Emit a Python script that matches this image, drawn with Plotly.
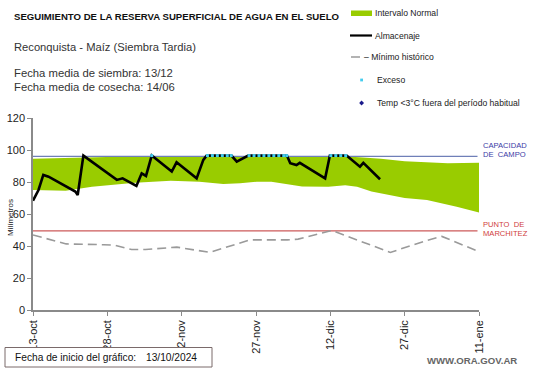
import pandas as pd
import plotly.graph_objects as go

# ---------------- data ----------------
START = pd.Timestamp("2024-10-13")

band_upper_days = [0, 4.7, 9.5, 19.1, 28.8, 43.2, 57.7, 63.5, 67.3, 70.2, 75.0, 79.9, 83.7, 90]
band_upper_vals = [94.6, 94.9, 95.6, 96.0, 96.2, 96.2, 96.2, 96.0, 95.2, 94.6, 93.0, 92.2, 91.7, 92.0]
band_lower_days = [0, 6.6, 11.9, 16.2, 20.6, 27.8, 33.6, 38.4, 41.8, 45.2, 48.1, 54.3, 59.6, 63.0,
                   65.4, 68.3, 71.5, 75.0, 79.5, 82.1, 85.5, 90]
band_lower_vals = [75.0, 74.6, 77.0, 78.5, 79.6, 80.8, 80.2, 78.8, 79.2, 80.2, 80.2, 77.2, 77.0, 78.0,
                   77.0, 74.0, 71.9, 70.0, 68.7, 66.7, 64.6, 61.0]

alm_days = [0, 1.11, 2.08, 3.14, 8.54, 9.02, 10.17, 16.92, 18.08, 20.87, 21.93, 22.8, 23.96, 28.0,
            28.97, 33.02, 34.37, 35.04, 40.05, 41.12, 43.43, 51.24, 51.91, 53.16, 53.84, 58.95,
            59.91, 63.28, 65.98, 66.66, 70.03]
alm_vals = [68.3, 75.0, 84.4, 83.3, 74.0, 71.9, 96.5, 81.3, 82.3, 77.5, 85.4, 83.8, 96.5, 86.5,
            92.3, 82.3, 93.8, 96.5, 96.5, 92.7, 96.5, 96.5, 91.7, 90.6, 92.0, 82.3,
            96.5, 96.5, 89.6, 92.0, 81.7]

min_days = [0, 6.7, 14.3, 16.5, 19.9, 22.7, 29.0, 35.7, 43.7, 51.3, 53.5, 60.3, 72.1, 79.5, 82.5, 90]
min_vals = [46.9, 41.3, 40.8, 40.5, 37.8, 37.8, 39.3, 36.0, 43.8, 43.8, 44.3, 49.7, 36.0, 43.5, 46.0, 36.5]

exceso_days = [23.96, 35.2, 36.2, 37.2, 38.2, 39.2, 40.0, 43.6, 44.6, 45.6, 46.6, 47.6, 48.6, 49.6,
               50.6, 51.2, 60.1, 61.1, 62.1, 63.1]
exceso_vals = [96.5] * len(exceso_days)

CAPACIDAD_CAMPO = 96.0
PUNTO_MARCHITEZ = 49.5
LINE_END_DAY = 89.7

tick_days = [0, 15, 30, 45, 60, 75, 90]
tick_labels = ["13-oct", "28-oct", "12-nov", "27-nov", "12-dic", "27-dic", "11-ene"]
y_ticks = [0, 20, 40, 60, 80, 100, 120]


def d(days):
    return [START + pd.Timedelta(days=float(v)) for v in days]


# ---------------- layout helpers ----------------
WIDTH, HEIGHT = 541, 368
L, R, T, B = 33, 62, 118, 58
PW, PH = WIDTH - L - R, HEIGHT - T - B


def PX(x):
    return (x - L) / PW


def PY(y):
    return (HEIGHT - B - y) / PH


FONT = "Arial, Liberation Sans, sans-serif"
GREEN = "#99cc00"
AXIS = "#8a8a8a"

fig = go.Figure()

# normal interval band
fig.add_trace(go.Scatter(
    x=d(band_upper_days + band_lower_days[::-1]),
    y=band_upper_vals + band_lower_vals[::-1],
    fill="toself", fillcolor=GREEN, mode="lines", line=dict(width=0, color=GREEN),
    hoverinfo="skip", showlegend=False))

# reference lines
fig.add_trace(go.Scatter(x=d([0, LINE_END_DAY]), y=[CAPACIDAD_CAMPO] * 2, mode="lines",
                         line=dict(color="#6f7fb8", width=1.2), showlegend=False))
fig.add_trace(go.Scatter(x=d([0, LINE_END_DAY]), y=[PUNTO_MARCHITEZ] * 2, mode="lines",
                         line=dict(color="#cc5a5a", width=1.2), showlegend=False))

# minimo historico
fig.add_trace(go.Scatter(x=d(min_days), y=min_vals, mode="lines",
                         line=dict(color="#9a9a9a", width=1.6, dash="9px,5px"), showlegend=False))

# almacenaje
fig.add_trace(go.Scatter(x=d(alm_days), y=alm_vals, mode="lines",
                         line=dict(color="#000000", width=2.6), showlegend=False))

# exceso
fig.add_trace(go.Scatter(x=d(exceso_days), y=exceso_vals, mode="markers",
                         marker=dict(color="#44ccee", size=3, symbol="square"), showlegend=False))

fig.update_layout(
    width=WIDTH, height=HEIGHT,
    margin=dict(l=L, r=R, t=T, b=B, autoexpand=False),
    paper_bgcolor="white", plot_bgcolor="white",
    font=dict(family=FONT, color="#222222", size=11),
    showlegend=False,
    xaxis=dict(
        range=[START, START + pd.Timedelta(days=90)], automargin=False,
        tickvals=d(tick_days), ticktext=tick_labels, tickangle=-90,
        ticks="outside", ticklen=4, tickcolor=AXIS, showgrid=False, zeroline=False,
        showline=True, linecolor=AXIS, linewidth=1.5, tickfont=dict(size=11, color="#222222"),
    ),
    yaxis=dict(
        range=[0, 120], tickvals=y_ticks, ticks="outside", ticklen=4, tickcolor=AXIS,
        showgrid=False, zeroline=False, showline=True, linecolor=AXIS, linewidth=1.5,
        tickfont=dict(size=11, color="#222222"), automargin=False,
    ),
)

ann = []


def text(x, y, s, size, color="#222222", bold=False, family=FONT, anchor="left", angle=0):
    ann.append(dict(x=PX(x), y=PY(y), xref="paper", yref="paper", text=("<b>%s</b>" % s) if bold else s,
                    showarrow=False, xanchor=anchor, yanchor="middle", textangle=angle,
                    font=dict(size=size, color=color, family=family)))


text(12, 16, "SEGUIMIENTO DE LA RESERVA SUPERFICIAL DE AGUA EN EL SUELO", 9.6, "#111111", bold=True)
text(12, 47, "Reconquista - Maíz (Siembra Tardia)", 11.2, "#333333")
text(12, 73, "Fecha media de siembra: 13/12", 11.3, "#333333")
text(12, 86.5, "Fecha media de cosecha: 14/06", 11.3, "#333333")
text(10, 218, "Milímetros", 8, "#222222", anchor="center", angle=-90)

# legend
LT = 8.6
text(373, 13, "Intervalo Normal", LT)
text(373, 35.5, "Almacenaje", LT)
text(362, 57, "– Mínimo histórico", LT)
text(375, 80, "Exceso", LT)
text(375, 103, "Temp <3°C fuera del período habitual", LT)

fig.add_shape(type="rect", xref="paper", yref="paper", x0=PX(351), x1=PX(372), y0=PY(16), y1=PY(10.5),
              fillcolor=GREEN, line=dict(width=0))
fig.add_shape(type="line", xref="paper", yref="paper", x0=PX(350), x1=PX(372), y0=PY(35.5), y1=PY(35.5),
              line=dict(color="black", width=2.2))
fig.add_shape(type="line", xref="paper", yref="paper", x0=PX(351), x1=PX(360), y0=PY(57), y1=PY(57),
              line=dict(color="#9a9a9a", width=1.5))
fig.add_shape(type="rect", xref="paper", yref="paper", x0=PX(360.2), x1=PX(363), y0=PY(81.4), y1=PY(78.6),
              fillcolor="#44ccee", line=dict(width=0))
fig.add_shape(type="path", xref="paper", yref="paper",
              path="M %f %f L %f %f L %f %f L %f %f Z" % (PX(361.6), PY(100.5), PX(364), PY(103),
                                                          PX(361.6), PY(105.5), PX(359.2), PY(103)),
              fillcolor="#1a1a8c", line=dict(width=0))

# reference labels
RT = 7.6
text(480.5, 145, "CAPACIDAD", RT, "#3b3ba6")
text(480.5, 154, "DE  CAMPO", RT, "#3b3ba6")
text(480.5, 224.3, "PUNTO  DE", RT, "#d04040")
text(480.5, 233.5, "MARCHITEZ", RT, "#d04040")

# bottom box
fig.add_shape(type="rect", xref="paper", yref="paper", x0=PX(5), x1=PX(212), y0=PY(367), y1=PY(347.5),
              line=dict(color="#7a6a6a", width=1), fillcolor="white")
text(13, 357.5, "Fecha de inicio del gráfico:", 10.2, "#111111")
text(143.5, 357.5, "13/10/2024", 10.2, "#111111")
text(519, 360, "WWW.ORA.GOV.AR", 9.6, "#666666", bold=True, anchor="right")

fig.update_layout(annotations=ann)

fig.write_html("out.html", config={"displayModeBar": False},
               post_script="document.body.style.margin='0px';")
